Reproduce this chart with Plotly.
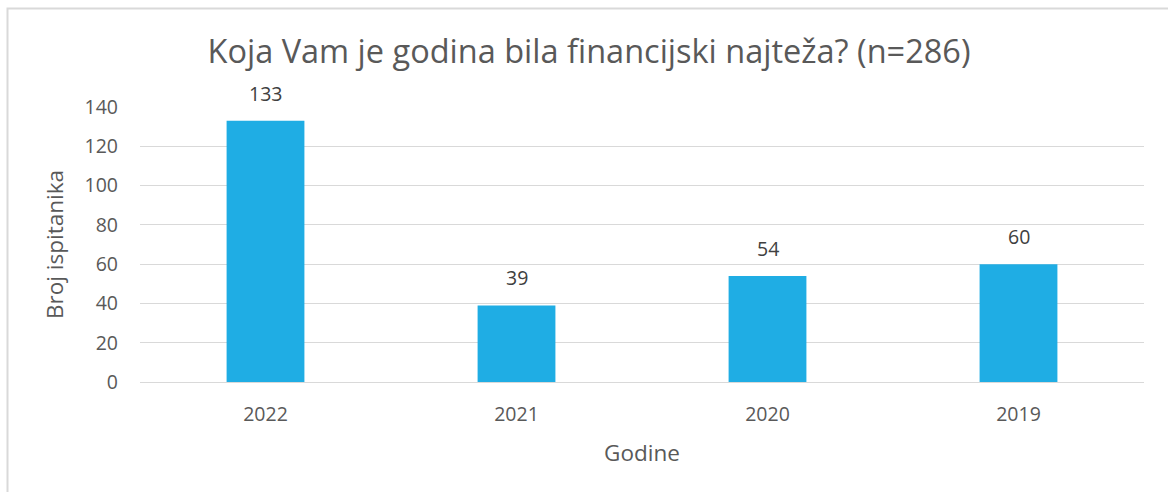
import plotly.graph_objects as go

categories = ["2022", "2021", "2020", "2019"]
values = [133, 39, 54, 60]
y_ticks = [0, 20, 40, 60, 80, 100, 120, 140]

title_text = "Koja Vam je godina bila financijski najteža? (n=286)"
x_title = "Godine"
y_title = "Broj ispitanika"

W, H = 1168, 492
ml, mr, mt, mb = 140, 24, 107, 110
pw = W - ml - mr
ph = H - mt - mb

font_family = "Open Sans, Noto Sans, sans-serif"
text_color = "#595959"
grid_color = "#D9D9D9"

fig = go.Figure()
fig.add_trace(go.Bar(
    x=categories, y=values,
    marker=dict(color="#1FADE4", line=dict(width=0)),
    hoverinfo="x+y",
))

# data labels, placed on the category axis by category index
for i, v in enumerate(values):
    fig.add_annotation(
        x=i, y=v, xref="x", yref="y", text=str(v), showarrow=False,
        yanchor="bottom", yshift=12,
        font=dict(family=font_family, size=19.5, color="#404040"),
    )

fig.update_layout(
    width=W, height=H,
    margin=dict(l=ml, r=mr, t=mt, b=mb),
    paper_bgcolor="white", plot_bgcolor="white",
    bargap=0.69,
    showlegend=False,
    title=dict(text=title_text, x=589 / W, xanchor="center",
               y=1 - 52 / H, yanchor="middle",
               font=dict(family=font_family, size=32.5, color=text_color)),
    font=dict(family=font_family, color=text_color),
    xaxis=dict(
        type="category", categoryorder="array", categoryarray=categories,
        range=[-0.5, len(categories) - 0.5],
        showgrid=False, showline=False, ticks="",
        tickfont=dict(size=19.5, color=text_color),
        ticklabelstandoff=18,
        title=dict(text=x_title, font=dict(size=22.5, color=text_color), standoff=19),
    ),
    yaxis=dict(
        range=[0, 140], tickvals=y_ticks,
        showgrid=True, gridcolor=grid_color, gridwidth=1,
        zeroline=True, zerolinecolor=grid_color, zerolinewidth=1,
        showline=False, ticks="",
        tickfont=dict(size=19.5, color=text_color),
        ticklabelstandoff=21,
        title=dict(text=y_title, font=dict(size=22.5, color=text_color), standoff=14),
    ),
)

# chart frame (light gray border, cut at right and bottom edges of the picture)
fig.add_shape(
    type="rect", xref="paper", yref="paper",
    x0=(7.5 - ml) / pw, x1=(W + 20 - ml) / pw,
    y0=-(H + 20 - (H - mb)) / ph, y1=((H - mb) - 8.5) / ph,
    line=dict(color=grid_color, width=2), fillcolor="rgba(0,0,0,0)",
    layer="below",
)

fig.write_html(
    "out.html",
    config={"displayModeBar": False},
    post_script="document.body.style.margin='0';document.body.style.overflow='hidden';",
)
